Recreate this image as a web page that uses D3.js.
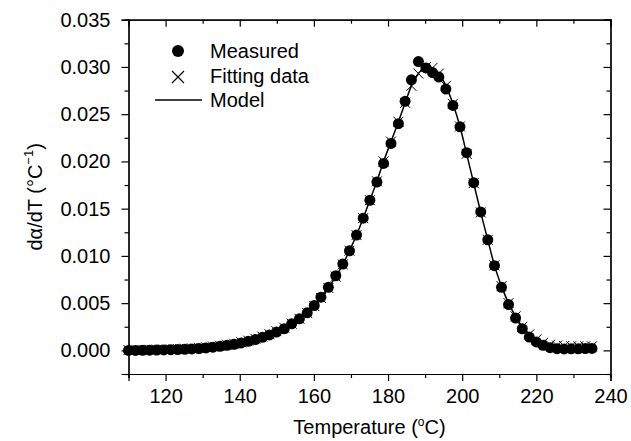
<!DOCTYPE html>
<html><head><meta charset="utf-8">
<script src="https://cdn.jsdelivr.net/npm/d3@7"></script>
<style>body{margin:0;background:#fff}svg{display:block}text{font-family:"Liberation Sans",Arial,sans-serif;fill:#000}</style>
</head><body><svg id="c" width="631" height="441"></svg>
<script>
const temps = [110.0,111.9,113.8,115.7,117.6,119.5,121.4,123.3,125.2,127.1,129.0,130.9,132.8,134.7,136.6,138.5,140.4,142.3,144.2,146.1,148.0,149.9,152.0,154.0,156.1,158.2,160.1,161.9,163.9,165.9,167.8,169.6,171.5,173.3,175.1,177.0,178.8,180.8,182.8,184.6,186.3,188.2,190.2,192.0,193.7,195.6,197.5,199.4,201.2,203.1,205.0,206.9,208.7,210.6,212.5,214.4,216.2,218.1,220.0,221.8,223.7,225.6,227.5,229.4,231.3,233.2,235.0];
const measured = [0.00000,0.00000,0.00001,0.00002,0.00003,0.00005,0.00007,0.00009,0.00012,0.00015,0.00020,0.00026,0.00034,0.00043,0.00053,0.00065,0.00079,0.00096,0.00115,0.00138,0.00164,0.00194,0.00229,0.00281,0.00334,0.00397,0.00475,0.00563,0.00668,0.00790,0.00914,0.01054,0.01220,0.01399,0.01589,0.01782,0.01979,0.02190,0.02400,0.02636,0.02864,0.03057,0.02990,0.02940,0.02893,0.02766,0.02593,0.02366,0.02092,0.01775,0.01465,0.01170,0.00896,0.00668,0.00485,0.00342,0.00229,0.00141,0.00089,0.00053,0.00028,0.00018,0.00015,0.00016,0.00017,0.00019,0.00021];
const fitting = [0.00003,0.00004,0.00005,0.00006,0.00008,0.00010,0.00012,0.00015,0.00018,0.00022,0.00027,0.00033,0.00040,0.00049,0.00059,0.00071,0.00086,0.00103,0.00123,0.00146,0.00172,0.00203,0.00240,0.00283,0.00334,0.00396,0.00470,0.00555,0.00660,0.00780,0.00910,0.01055,0.01220,0.01400,0.01590,0.01790,0.02000,0.02210,0.02420,0.02620,0.02800,0.02930,0.03000,0.02990,0.02930,0.02800,0.02610,0.02370,0.02080,0.01770,0.01460,0.01170,0.00900,0.00680,0.00500,0.00360,0.00250,0.00170,0.00115,0.00080,0.00060,0.00050,0.00046,0.00044,0.00043,0.00043,0.00043];
const xTicks = [120,140,160,180,200,220,240];
const yTicks = [0.000,0.005,0.010,0.015,0.020,0.025,0.030,0.035];
const legendLabels = ["Measured","Fitting data","Model"];

const svg = d3.select("#c");
const L=128.5,R=610.5,T=19.7,B=374;
const x = d3.scaleLinear().domain([110,240]).range([L,R]);
const y = d3.scaleLinear().domain([-0.0025,0.035]).range([B,T]);
const fs = 20;

const xMinor = d3.range(110,241,10);
const yMinor = d3.range(-0.0025,0.0351,0.0025);

// axes
const gB = svg.append("g").attr("transform",`translate(0,${B})`)
  .call(d3.axisBottom(x).tickValues(xTicks).tickFormat(d3.format("d")).tickSizeOuter(0).tickSize(7).tickPadding(8));
const gL = svg.append("g").attr("transform",`translate(${L},0)`)
  .call(d3.axisLeft(y).tickValues(yTicks).tickFormat(d3.format(".3f")).tickSizeOuter(0).tickSize(7).tickPadding(11));
const gT = svg.append("g").attr("transform",`translate(0,${T})`)
  .call(d3.axisTop(x).tickValues(xTicks).tickFormat("").tickSizeOuter(0).tickSize(-7));
const gR = svg.append("g").attr("transform",`translate(${R},0)`)
  .call(d3.axisRight(y).tickValues(yTicks).tickFormat("").tickSizeOuter(0).tickSize(-7));
// minor ticks
svg.append("g").attr("transform",`translate(0,${B})`).call(d3.axisBottom(x).tickValues(xMinor.filter(v=>!xTicks.includes(v))).tickFormat("").tickSizeOuter(0).tickSize(4));
svg.append("g").attr("transform",`translate(0,${T})`).call(d3.axisTop(x).tickValues(xMinor.filter(v=>!xTicks.includes(v))).tickFormat("").tickSizeOuter(0).tickSize(-4));
svg.append("g").attr("transform",`translate(${L},0)`).call(d3.axisLeft(y).tickValues(yMinor.filter((v,i)=>i%2==0)).tickFormat("").tickSizeOuter(0).tickSize(4));
svg.append("g").attr("transform",`translate(${R},0)`).call(d3.axisRight(y).tickValues(yMinor.filter((v,i)=>i%2==0)).tickFormat("").tickSizeOuter(0).tickSize(-4));
svg.selectAll(".domain,.tick line").attr("stroke","#000").attr("stroke-width",1.2);
svg.selectAll(".tick text").style("font-size",fs+"px").style("font-family","'Liberation Sans',Arial,sans-serif");

// axis titles
const xt = svg.append("text").attr("x",(L+R)/2).attr("y",434).attr("text-anchor","middle").style("font-size",fs+"px");
xt.append("tspan").text("Temperature (");
xt.append("tspan").text("o").attr("dy",-8).style("font-size","12px");
xt.append("tspan").text("C)").attr("dy",8);
const yt = svg.append("text").attr("transform",`translate(42,${(T+B)/2}) rotate(-90)`).attr("text-anchor","middle").style("font-size",fs+"px");
yt.append("tspan").text("d\u03B1/dT (\u00B0C");
yt.append("tspan").text("\u22121").attr("dy",-9).style("font-size","13px");
yt.append("tspan").text(")").attr("dy",9);

// model line
const line = d3.line().x((d,i)=>x(temps[i])).y(d=>y(d)).curve(d3.curveMonotoneX);
svg.append("path").datum(fitting).attr("d",line).attr("fill","none").attr("stroke","#000").attr("stroke-width",1.5);

// measured circles
svg.append("g").selectAll("circle").data(measured).join("circle")
  .attr("cx",(d,i)=>x(temps[i])).attr("cy",d=>y(d)).attr("r",5.5).attr("fill","#000");

// fitting crosses
const xs = 5;
svg.append("g").selectAll("path").data(fitting).join("path")
  .attr("d",(d,i)=>{const cx=x(temps[i]),cy=y(d);return `M${cx-xs},${cy-xs}L${cx+xs},${cy+xs}M${cx-xs},${cy+xs}L${cx+xs},${cy-xs}`;})
  .attr("stroke","#000").attr("stroke-width",1).attr("fill","none");

// legend
const lg = svg.append("g");
lg.append("circle").attr("cx",178).attr("cy",51).attr("r",6).attr("fill","#000");
lg.append("path").attr("d","M172,71L184,83M172,83L184,71").attr("stroke","#000").attr("stroke-width",1.2);
lg.append("line").attr("x1",155).attr("x2",202).attr("y1",100).attr("y2",100).attr("stroke","#000").attr("stroke-width",1.5);
legendLabels.forEach((t,i)=>lg.append("text").attr("x",210).attr("y",51+i*24.5).attr("dy","0.36em").style("font-size",fs+"px").text(t));
</script></body></html>
